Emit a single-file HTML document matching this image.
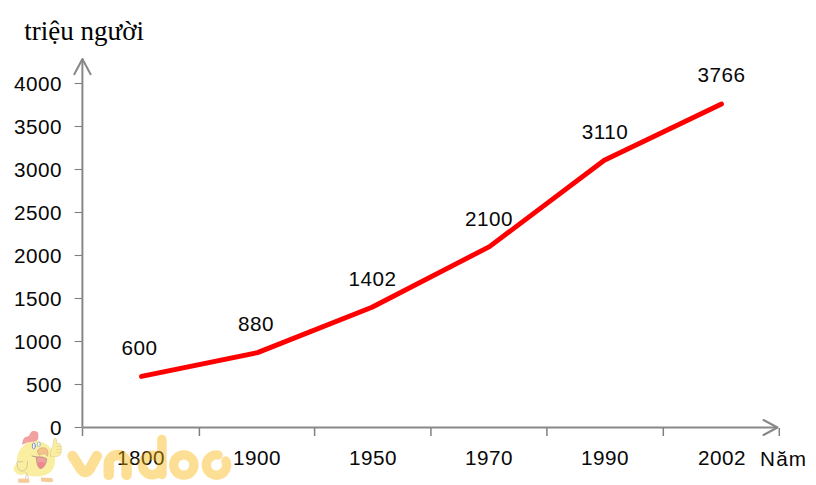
<!DOCTYPE html>
<html>
<head>
<meta charset="utf-8">
<style>
html,body{margin:0;padding:0;background:#fff;}
body{width:816px;height:485px;overflow:hidden;position:relative;}
svg{position:absolute;left:0;top:0;display:block;}
.t{font-family:"Liberation Sans",sans-serif;font-size:20.7px;letter-spacing:0.5px;fill:#080808;}
.ser{font-family:"Liberation Serif",serif;font-size:27px;fill:#000;}
</style>
</head>
<body>
<svg width="816" height="485" viewBox="0 0 816 485">
  <!-- title -->
  <text class="ser" x="24.3" y="39.5">triệu người</text>

  <!-- axes -->
  <g stroke="#888" fill="none" stroke-width="2">
    <line x1="82.4" y1="427.5" x2="82.4" y2="59"/>
    <polyline points="74.3,74.3 82.4,59 90.6,74.3" stroke-linecap="round" stroke-linejoin="round"/>
    <line x1="82.4" y1="427.5" x2="777.5" y2="427.5"/>
    <polyline points="763.5,420 777.5,427.5 763.5,435" stroke-linecap="round" stroke-linejoin="round"/>
  </g>
  <g stroke="#808080" fill="none" stroke-width="1.1">
    <line x1="74.6" y1="427.5" x2="82" y2="427.5"/>
    <line x1="74.6" y1="384.5" x2="82" y2="384.5"/>
    <line x1="74.6" y1="341.5" x2="82" y2="341.5"/>
    <line x1="74.6" y1="298.5" x2="82" y2="298.5"/>
    <line x1="74.6" y1="255.5" x2="82" y2="255.5"/>
    <line x1="74.6" y1="212.5" x2="82" y2="212.5"/>
    <line x1="74.6" y1="169.5" x2="82" y2="169.5"/>
    <line x1="74.6" y1="126.5" x2="82" y2="126.5"/>
    <line x1="74.6" y1="83.5" x2="82" y2="83.5"/>
    <line x1="82.5" y1="428" x2="82.5" y2="436" stroke-width="1.5"/>
    <line x1="199.4" y1="428" x2="199.4" y2="436" stroke-width="1.5"/>
    <line x1="314.6" y1="428" x2="314.6" y2="436" stroke-width="1.5"/>
    <line x1="430.9" y1="428" x2="430.9" y2="436" stroke-width="1.5"/>
    <line x1="546.9" y1="428" x2="546.9" y2="436" stroke-width="1.5"/>
    <line x1="663.3" y1="428" x2="663.3" y2="436" stroke-width="1.5"/>
    <line x1="779.3" y1="428" x2="779.3" y2="436" stroke-width="1.5"/>
  </g>

  <!-- y labels -->
  <g class="t" text-anchor="end">
    <text x="62" y="434.8">0</text>
    <text x="62" y="391.8">500</text>
    <text x="62" y="348.8">1000</text>
    <text x="62" y="305.8">1500</text>
    <text x="62" y="262.8">2000</text>
    <text x="62" y="219.8">2500</text>
    <text x="62" y="176.8">3000</text>
    <text x="62" y="133.8">3500</text>
    <text x="62" y="90.8">4000</text>
  </g>

  <!-- x labels -->
  <g class="t" text-anchor="middle">
    <text x="141" y="464.6">1800</text>
    <text x="257" y="464.6">1900</text>
    <text x="373" y="464.6">1950</text>
    <text x="489" y="464.6">1970</text>
    <text x="605" y="464.6">1990</text>
    <text x="722" y="464.6">2002</text>
  </g>
  <text class="t" x="760" y="465.5" style="letter-spacing:1.2px">Năm</text>

  <!-- data line -->
  <polyline points="141.5,376.4 257.5,352.6 372,307.3 489.5,246.6 604.3,160.3 721.5,104" fill="none" stroke="#ff0000" stroke-width="4.9" stroke-linejoin="round" stroke-linecap="round"/>

  <!-- data labels -->
  <g class="t" text-anchor="middle">
    <text x="139.5" y="355.2">600</text>
    <text x="256" y="330.9">880</text>
    <text x="372.6" y="285.5">1402</text>
    <text x="489" y="225.5">2100</text>
    <text x="605" y="138.7">3110</text>
    <text x="721.5" y="82.3">3766</text>
  </g>

  <!-- watermark vndoc -->
  <g opacity="0.42" fill="none" stroke="#f8b505" stroke-linecap="round" stroke-linejoin="round">
    <path stroke-width="10.5" d="M72.6,456 L80.5,468.5 Q85.2,475.5 90,468.5 L96.8,456"/>
    <path stroke-width="10.5" d="M108.8,474.8 L108.8,464 A8.9,8.9 0 0 1 126.6,464 L126.6,474.8"/>
    <circle stroke-width="9.5" cx="152.2" cy="465" r="9.7"/>
    <path stroke-width="9.5" d="M161.9,439.5 L161.9,474.5"/>
    <circle stroke-width="9.3" cx="183.8" cy="465" r="10.15"/>
    <path stroke-width="9.3" d="M225.8,461 A10.15,10.15 0 1 1 218,455"/>
  </g>

  <!-- chick mascot -->
  <g stroke-linejoin="round" stroke-linecap="round">
    <!-- left wing -->
    <path d="M13.5,469 C14,465 17,463 20,464 L26,466 C27,471 25,475 21,475 C17,474.5 14,472 13.5,469 Z" fill="#faeea0"/>
    <!-- body -->
    <path d="M36,441 C46,441 54.5,449 55,460 C55.5,471 47,476.5 36,476.5 C25,476.5 17,471 17,460 C17,449 26,441 36,441 Z" fill="#faeea0"/>
    <!-- comb -->
    <path d="M22,444.8 C22.5,441 23.5,438 25,437.3 C26.5,436.5 28,436.5 29,436 C30,433 31.5,431 33,431 C35,431 37,431 38,432.5 C38.5,435 38.5,437.5 38,439.5 C37,441 35.5,441.5 33,441.8 C30,442 27,442.5 25,443.5 Z" fill="#f2a0a0"/>
    <!-- thumb hand -->
    <path d="M50.5,456 C50,452 51.5,449 53,446 C53.5,442 53.5,439 55,438.3 C56.5,438 57,440 56.5,443 L60,444 C61.8,445 61.8,452 60.5,454.5 C58,457 53,457.5 50.5,456 Z" fill="#faeea0" stroke="#e0c890" stroke-width="0.6"/>
    <path d="M56.5,446.5 L60.5,446.5 M56.5,449.5 L60.5,449.5 M56.5,452.5 L60,452.5" fill="none" stroke="#e0c890" stroke-width="0.6"/>
    <!-- left hand outline -->
    <path d="M17,462.5 C17,468 19,471 22.5,471 C26,471 27.5,467 27.5,461.5 M17,462.5 L19,461 L20.5,462.5 L22,461 L23,462" fill="none" stroke="#c8b090" stroke-width="0.7"/>
    <path d="M25.5,472 C27,474 29,476 28,478.5 M26,475 L25.5,479" fill="none" stroke="#c8b090" stroke-width="0.6"/>
    <!-- eyes -->
    <ellipse cx="33.8" cy="446" rx="1.5" ry="3" fill="#fdfdf5" stroke="#7a8ac8" stroke-width="0.9"/>
    <ellipse cx="38.8" cy="444.3" rx="1.5" ry="2.4" fill="#fdfdf5" stroke="#88b0d8" stroke-width="0.8"/>
    <!-- mouth -->
    <path d="M32,456 L37,457 C40,456.5 44,457 46.8,459 C46,463 45,467 41,468.5 C38,468.3 36.5,463 36.3,457.5" fill="#eea0a0" stroke="#b09080" stroke-width="0.8"/>
    <path d="M37.5,462.5 C40,461.5 44,462 45.5,463.5 C44.5,467 42.5,468.5 40,468.5 C38,468 37.5,465 37.5,462.5 Z" fill="#ee8890"/>
    <!-- beak -->
    <path d="M37.7,450.5 C39,448 42,447.5 44.5,447.8 C47,448.5 48.3,451 47.9,453.5 C47.8,455 47.5,456 47.2,456.3 C46.5,455 45.8,454 45,453.6 C43,453.5 41,454.5 39,455.2 C38,454 37.5,452 37.7,450.5 Z" fill="#f6c48a" stroke="#c8a080" stroke-width="0.6"/>
    <!-- feet -->
    <path d="M18.2,478.6 L29.3,478.6 L29.3,482.8 L18.2,482.8 Z" fill="#f6cc98"/>
    <path d="M41,477.5 L52,478 L53.4,481 L51,482.2 L41,481.5 Z" fill="#f6cc98"/>
  </g>
</svg>
</body>
</html>
